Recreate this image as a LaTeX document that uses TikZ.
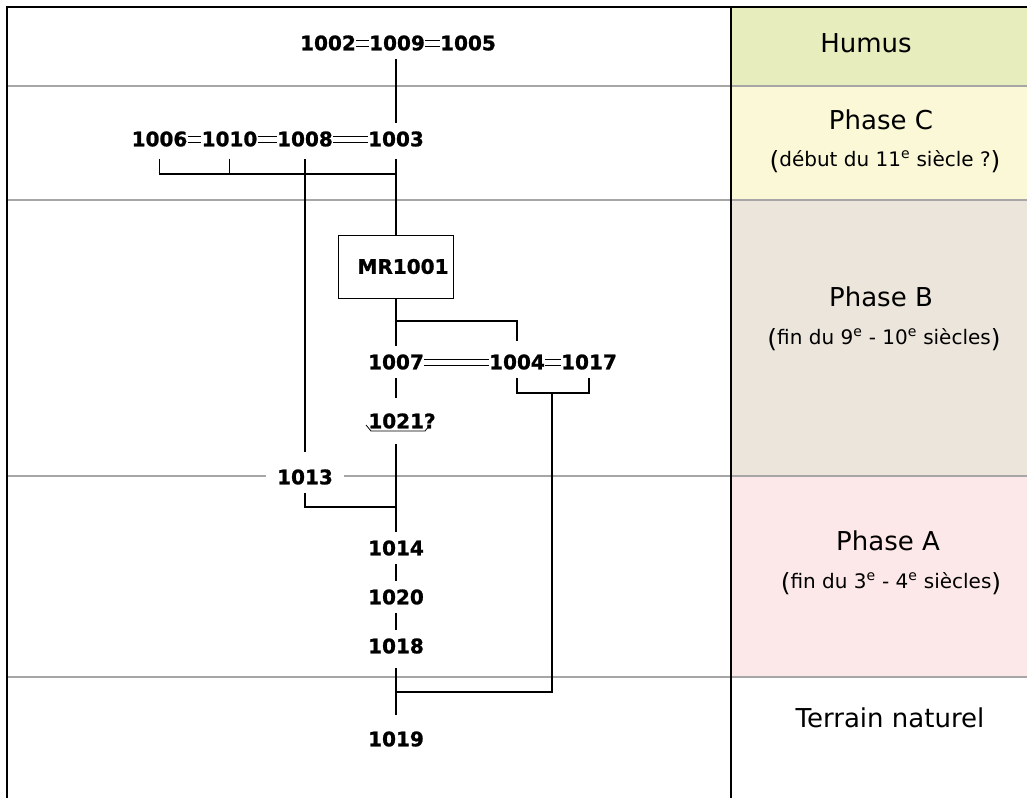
\documentclass[tikz,border=0pt]{standalone}
\usepackage{fontspec}
\setmainfont{DejaVu Sans}
\newfontfamily\lblfont[RawFeature={embolden=1.2}]{DejaVu Sans Bold}
\usetikzlibrary{calc}
\definecolor{humusc}{HTML}{E8EDBE}
\definecolor{phasec}{HTML}{FBF8D8}
\definecolor{phaseb}{HTML}{EBE5DB}
\definecolor{phasea}{HTML}{FCE8E8}
\definecolor{sepgray}{HTML}{A6A6A6}
\newcommand\parenbig[1]{\raisebox{-3pt}{\fontsize{25}{25}\selectfont #1}}
\begin{document}
\begin{tikzpicture}[x=1pt,y=-1pt,
  lbl/.style={font=\lblfont\fontsize{20}{20}\selectfont, inner xsep=0pt, inner ysep=8pt},
  mrbox/.style={draw, line width=0.9pt, minimum width=115pt, minimum height=63pt, text width=105pt, inner xsep=5pt, align=right, font=\lblfont\fontsize{20}{20}\selectfont},
  eqline/.style={line width=0.9pt},
  conn/.style={line width=1.2pt},
  sepline/.style={sepgray, line width=1.5pt},
  border/.style={black, line width=2pt},
  title/.style={font=\fontsize{26}{30}\selectfont, anchor=base},
  subt/.style={font=\fontsize{20}{24}\selectfont, anchor=base}]
\useasboundingbox (0,0) rectangle (1027,798);
\fill[white] (0,0) rectangle (1027,798);
% bands
\fill[humusc] (731,7) rectangle (1027,86);
\fill[phasec] (731,86) rectangle (1027,200);
\fill[phaseb] (731,200) rectangle (1027,476);
\fill[phasea] (731,476) rectangle (1027,677);
% separators
\draw[sepline] (7,86) -- (1027,86);
\draw[sepline] (7,200) -- (1027,200);
\draw[sepline] (7,476) -- (1027,476);
\draw[sepline] (7,677) -- (1027,677);
% borders
\draw[border] (1027,7) -- (7,7) -- (7,798);
\draw[black, line width=1.6pt] (731,7) -- (731,798);
% right column texts
\node[title] (tH) at (866,52) {Humus};
\node[title] (tC) at (881,129) {Phase C};
\node[subt] (sC) at (885,166) {\parenbig{(}début du 11\textsuperscript{e} siècle ?\parenbig{)}};
\node[title] (tB) at (881,306) {Phase B};
\node[subt] (sB) at (884,344) {\parenbig{(}fin du 9\textsuperscript{e} - 10\textsuperscript{e} siècles\parenbig{)}};
\node[title] (tA) at (888,550) {Phase A};
\node[subt] (sA) at (891,588) {\parenbig{(}fin du 3\textsuperscript{e} - 4\textsuperscript{e} siècles\parenbig{)}};
\node[title] (tT) at (890,727) {Terrain naturel};
% unit labels
\node[lbl] (n1002) at (328,43) {1002};
\node[lbl] (n1009) at (397,43) {1009};
\node[lbl] (n1005) at (468,43) {1005};
\node[lbl] (n1006) at (159.5,139) {1006};
\node[lbl] (n1010) at (229.5,139) {1010};
\node[lbl] (n1008) at (305,139) {1008};
\node[lbl] (n1003) at (396,139) {1003};
\node[mrbox] (nMR) at (396,266.5) {MR1001};
\node[lbl] (n1007) at (396,362) {1007};
\node[lbl] (n1004) at (517,362) {1004};
\node[lbl] (n1017) at (589,362) {1017};
\node[lbl, inner ysep=15pt] (n1021) at (402,421) {1021?};
\node[lbl, fill=white, inner xsep=11pt] (n1013) at (305,477) {1013};
\node[lbl] (n1014) at (396,548) {1014};
\node[lbl] (n1020) at (396,597) {1020};
\node[lbl] (n1018) at (396,646) {1018};
\node[lbl] (n1019) at (396,739) {1019};
% squiggle under 1021?
\draw[line width=0.8pt] ($(n1021.center)+(-36,4)$) -- ($(n1021.center)+(-31,10)$) -- ($(n1021.center)+(23,10)$) -- ($(n1021.center)+(27,5)$);
% equivalences (double lines)
\foreach \a/\b in {n1002/n1009, n1009/n1005, n1006/n1010, n1010/n1008, n1008/n1003, n1007/n1004, n1004/n1017}{
  \draw[eqline] ([yshift=3pt]\a.east) -- ([yshift=3pt]\b.west);
  \draw[eqline] ([yshift=-3pt]\a.east) -- ([yshift=-3pt]\b.west);
}
% junctions
\coordinate (jC) at (396,174);
\coordinate (jB) at (396,321);
\coordinate (jD) at (552,393);
\coordinate (jE) at (552,692);
\coordinate (jF) at (396,507);
% stratigraphic links
\draw[conn] (n1009.south -| n1003.north) -- (n1003.north);
\draw[conn] ([yshift=-4pt]n1006.south) |- (jC);
\draw[conn] ([yshift=-4pt]n1010.south) -- (n1010.south |- jC);
\draw[conn] ([yshift=-4pt]n1003.south) -- (nMR.north);
\draw[conn] ([yshift=-4pt]n1008.south) -- ([yshift=9pt]n1013.north);
\draw[conn] (nMR.south) -- (n1007.north);
\draw[conn] (jB) -| ([yshift=5pt]n1004.north);
\draw[conn] (n1004.south) |- (jD) -| (n1017.south);
\draw[conn] (jD) -- (jE) -- (jE -| n1018.south);
\draw[conn] (n1007.south) -- (n1007.south |- n1021.north);
\draw[conn] (n1014.north |- n1021.south) -- (n1014.north);
\draw[conn] (n1013.south) |- (jF);
\draw[conn] (n1014.south) -- (n1020.north);
\draw[conn] (n1020.south) -- (n1018.north);
\draw[conn] ([yshift=-6pt]n1018.south) -- ([yshift=8pt]n1019.north);
\end{tikzpicture}
\end{document}
